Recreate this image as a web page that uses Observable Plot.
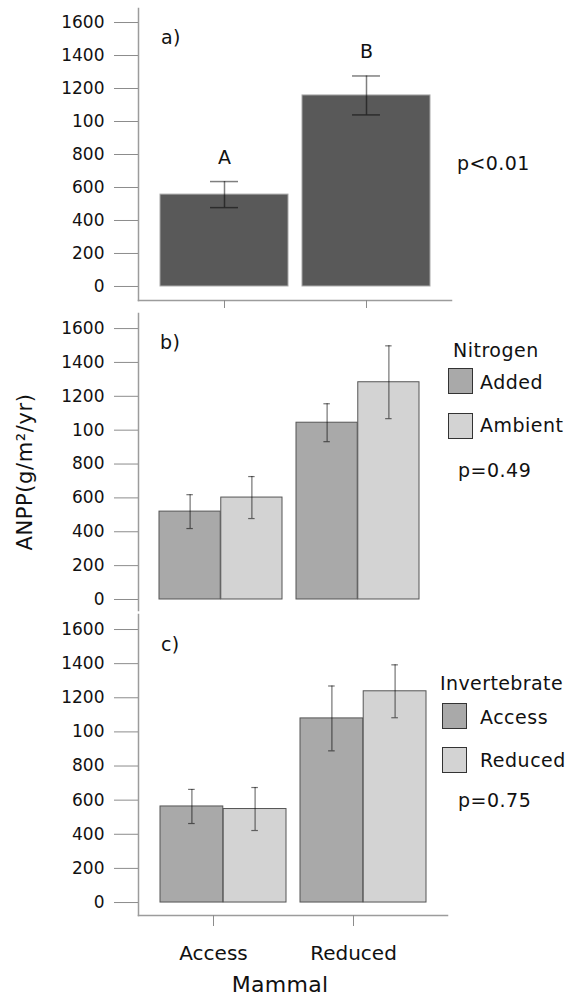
<!DOCTYPE html>
<html>
<head>
<meta charset="utf-8">
<script src="https://cdn.jsdelivr.net/npm/d3@7"></script>
<script src="https://cdn.jsdelivr.net/npm/@observablehq/plot@0.6"></script>
<style>
  body { margin: 0; background: #fff; }
  #chart { position: relative; width: 573px; height: 997px; font-family: "DejaVu Sans", sans-serif; color: #111; overflow: hidden; }
  #chart svg { position: absolute; left: 0; }
  .note { position: absolute; white-space: nowrap; line-height: 1; transform: translateY(-50%); }
  .sw { position: absolute; box-sizing: border-box; border: 1px solid #333; }
</style>
</head>
<body>
<div id="chart"></div>
<script>
// Mammal treatment levels (x categories)
const mammal = ["Access", "Reduced"];

// Value axis ticks and their printed labels
const yTicks = [0, 200, 400, 600, 800, 1000, 1200, 1400, 1600];
const yTickLabels = ["0", "200", "400", "600", "800", "100", "1200", "1400", "1600"];

// a) ANPP by mammal access: mean, standard error, significance letters
const anppMean = [557, 1158];
const anppSE = [79, 118];
const groupLetters = ["A", "B"];
const pMammal = "p<0.01";

// b) ANPP by mammal access and nitrogen
const nitrogenLevels = ["Added", "Ambient"];
const nitrogenAddedMean = [519, 1044];
const nitrogenAddedSE = [100, 112];
const nitrogenAmbientMean = [602, 1283];
const nitrogenAmbientSE = [124, 215];
const pNitrogen = "p=0.49";

// c) ANPP by mammal access and invertebrate access
const invertLevels = ["Access", "Reduced"];
const invertAccessMean = [563, 1079];
const invertAccessSE = [100, 190];
const invertReducedMean = [548, 1238];
const invertReducedSE = [126, 155];
const pInvert = "p=0.75";

const W = 573;
const ML = 138;
const fontFamily = '"DejaVu Sans", sans-serif';
const darkFill = "#595959";
const pairFills = ["#a9a9a9", "#d3d3d3"];
const axisGrey = "#9c9c9c";
const chart = document.getElementById("chart");

const bandPadding = {type: "band", domain: mammal, paddingInner: 0.1, paddingOuter: 0.15};

function yAxisMarks() {
  return [
    Plot.frame({anchor: "left", stroke: axisGrey, strokeWidth: 1.5}),
    Plot.axisY({
      ticks: yTicks,
      tickFormat: d => yTickLabels[yTicks.indexOf(d)],
      tickSize: 24, tickPadding: 10,
      stroke: "#8c8c8c", color: "#111",
      fontSize: 17, label: null
    })
  ];
}

function place(svg, top) {
  svg.style.top = top + "px";
  chart.appendChild(svg);
}

function note(text, left, cy, size, extra = {}) {
  const d = document.createElement("div");
  d.className = "note";
  d.textContent = text;
  d.style.left = left + "px";
  d.style.top = cy + "px";
  d.style.fontSize = size + "px";
  d.style.letterSpacing = (extra.spacing ?? 0.4) + "px";
  if (extra.center) d.style.transform = "translate(-50%, -50%)";
  chart.appendChild(d);
  return d;
}

function swatch(left, top, fill) {
  const d = document.createElement("div");
  d.className = "sw";
  d.style.left = left + "px";
  d.style.top = top + "px";
  d.style.width = "25px";
  d.style.height = "26px";
  d.style.background = fill;
  chart.appendChild(d);
}

// ---- a) single bars per mammal level ----
{
  const mR = 122;
  const bw = (W - ML - mR) / 2.2 * 0.9;
  const capInset = (bw - 28) / 2;
  const rows = mammal.map((m, i) => ({mammal: m, mean: anppMean[i], se: anppSE[i], letter: groupLetters[i]}));
  const err = {stroke: "black", strokeOpacity: 0.5, strokeWidth: 1.5};
  const svg = Plot.plot({
    width: W, height: 310,
    marginTop: 8, marginBottom: 10, marginLeft: ML, marginRight: mR,
    style: {fontFamily, fontSize: "17px", background: "transparent", overflow: "visible"},
    x: bandPadding,
    y: {domain: [-85, 1685]},
    marks: [
      Plot.barY(rows, {x: "mammal", y1: 0, y2: "mean", fill: darkFill, stroke: "#a8a8a8"}),
      Plot.ruleX(rows, {x: "mammal", y1: d => d.mean - d.se, y2: d => d.mean + d.se, ...err}),
      Plot.tickY(rows, {x: "mammal", y: d => d.mean + d.se, insetLeft: capInset, insetRight: capInset, ...err}),
      Plot.tickY(rows, {x: "mammal", y: d => d.mean - d.se, insetLeft: capInset, insetRight: capInset, ...err}),
      Plot.text(rows, {x: "mammal", y: d => d.mean + d.se, text: "letter", dy: -24, fontSize: 19, fill: "#111"}),
      ...yAxisMarks(),
      Plot.frame({anchor: "bottom", stroke: axisGrey, strokeWidth: 1.5}),
      Plot.axisX({tickSize: 8, tickFormat: () => "", stroke: "#8c8c8c", label: null})
    ]
  });
  place(svg, 0);
  note("a)", 161, 37, 19);
  note(pMammal, 457, 163, 19);
}

// ---- grouped bars (two levels of a second factor within each mammal level) ----
function groupedPanel({top, height, marginTop, marginBottom, marginRight, yDomain, series, xAxis}) {
  const bw = (W - ML - marginRight) / 2.2 * 0.9;
  const capHalf = 3.5;
  const err = {stroke: "black", strokeOpacity: 0.55, strokeWidth: 1.2};
  const marks = [];
  series.forEach((s, k) => {
    const rows = mammal.map((m, j) => ({mammal: m, mean: s.mean[j], se: s.se[j]}));
    const center = k === 0 ? bw / 4 : 3 * bw / 4;
    const capL = center - capHalf, capR = bw - center - capHalf;
    marks.push(
      Plot.barY(rows, {
        x: "mammal", y1: 0, y2: "mean", fill: s.fill, stroke: "#555",
        insetLeft: k === 0 ? 0 : bw / 2, insetRight: k === 0 ? bw / 2 : 0
      }),
      Plot.ruleX(rows, {x: "mammal", y1: d => d.mean - d.se, y2: d => d.mean + d.se, dx: center - bw / 2, ...err}),
      Plot.tickY(rows, {x: "mammal", y: d => d.mean + d.se, insetLeft: capL, insetRight: capR, ...err}),
      Plot.tickY(rows, {x: "mammal", y: d => d.mean - d.se, insetLeft: capL, insetRight: capR, ...err})
    );
  });
  marks.push(...yAxisMarks());
  if (xAxis) {
    marks.push(
      Plot.frame({anchor: "bottom", stroke: axisGrey, strokeWidth: 1.5}),
      Plot.axisX({tickSize: 11, tickPadding: 19, dx: -10, stroke: "#8c8c8c", color: "#111", fontSize: 20, label: null})
    );
  }
  const svg = Plot.plot({
    width: W, height,
    marginTop, marginBottom, marginLeft: ML, marginRight,
    style: {fontFamily, fontSize: "17px", background: "transparent", overflow: "visible"},
    x: xAxis ? bandPadding : {...bandPadding, axis: null},
    y: {domain: yDomain},
    marks
  });
  place(svg, top);
}

// ---- b) nitrogen ----
groupedPanel({
  top: 310, height: 302, marginTop: 3, marginBottom: 2, marginRight: 133,
  yDomain: [-65, 1689],
  series: [
    {mean: nitrogenAddedMean, se: nitrogenAddedSE, fill: pairFills[0]},
    {mean: nitrogenAmbientMean, se: nitrogenAmbientSE, fill: pairFills[1]}
  ],
  xAxis: false
});
note("b)", 160, 342, 19);
note("Nitrogen", 453, 350, 19, {spacing: 0.5});
swatch(448, 368, pairFills[0]);
swatch(448, 413, pairFills[1]);
note(nitrogenLevels[0], 480, 382, 19, {spacing: 0.5});
note(nitrogenLevels[1], 480, 425, 19, {spacing: 0.5});
note(pNitrogen, 458, 470, 19, {spacing: 0.5});

// ---- c) invertebrates ----
groupedPanel({
  top: 612, height: 385, marginTop: 2, marginBottom: 82, marginRight: 126,
  yDomain: [-76, 1688],
  series: [
    {mean: invertAccessMean, se: invertAccessSE, fill: pairFills[0]},
    {mean: invertReducedMean, se: invertReducedSE, fill: pairFills[1]}
  ],
  xAxis: true
});
note("c)", 161, 644, 19);
note("Invertebrate", 440, 683, 19, {spacing: 0.4});
swatch(442, 703, pairFills[0]);
swatch(442, 747, pairFills[1]);
note(invertLevels[0], 480, 717, 19, {spacing: 0.5});
note(invertLevels[1], 480, 760, 19, {spacing: 0.5});
note(pInvert, 458, 800, 19, {spacing: 0.5});

// ---- shared axis titles ----
note("Mammal", 280, 985, 22, {center: true, spacing: 0.3});
const yTitle = note("ANPP(g/m²/yr)", 25, 472, 21, {spacing: 0.6});
yTitle.style.transform = "translate(-50%, -50%) rotate(-90deg)";
</script>
</body>
</html>
